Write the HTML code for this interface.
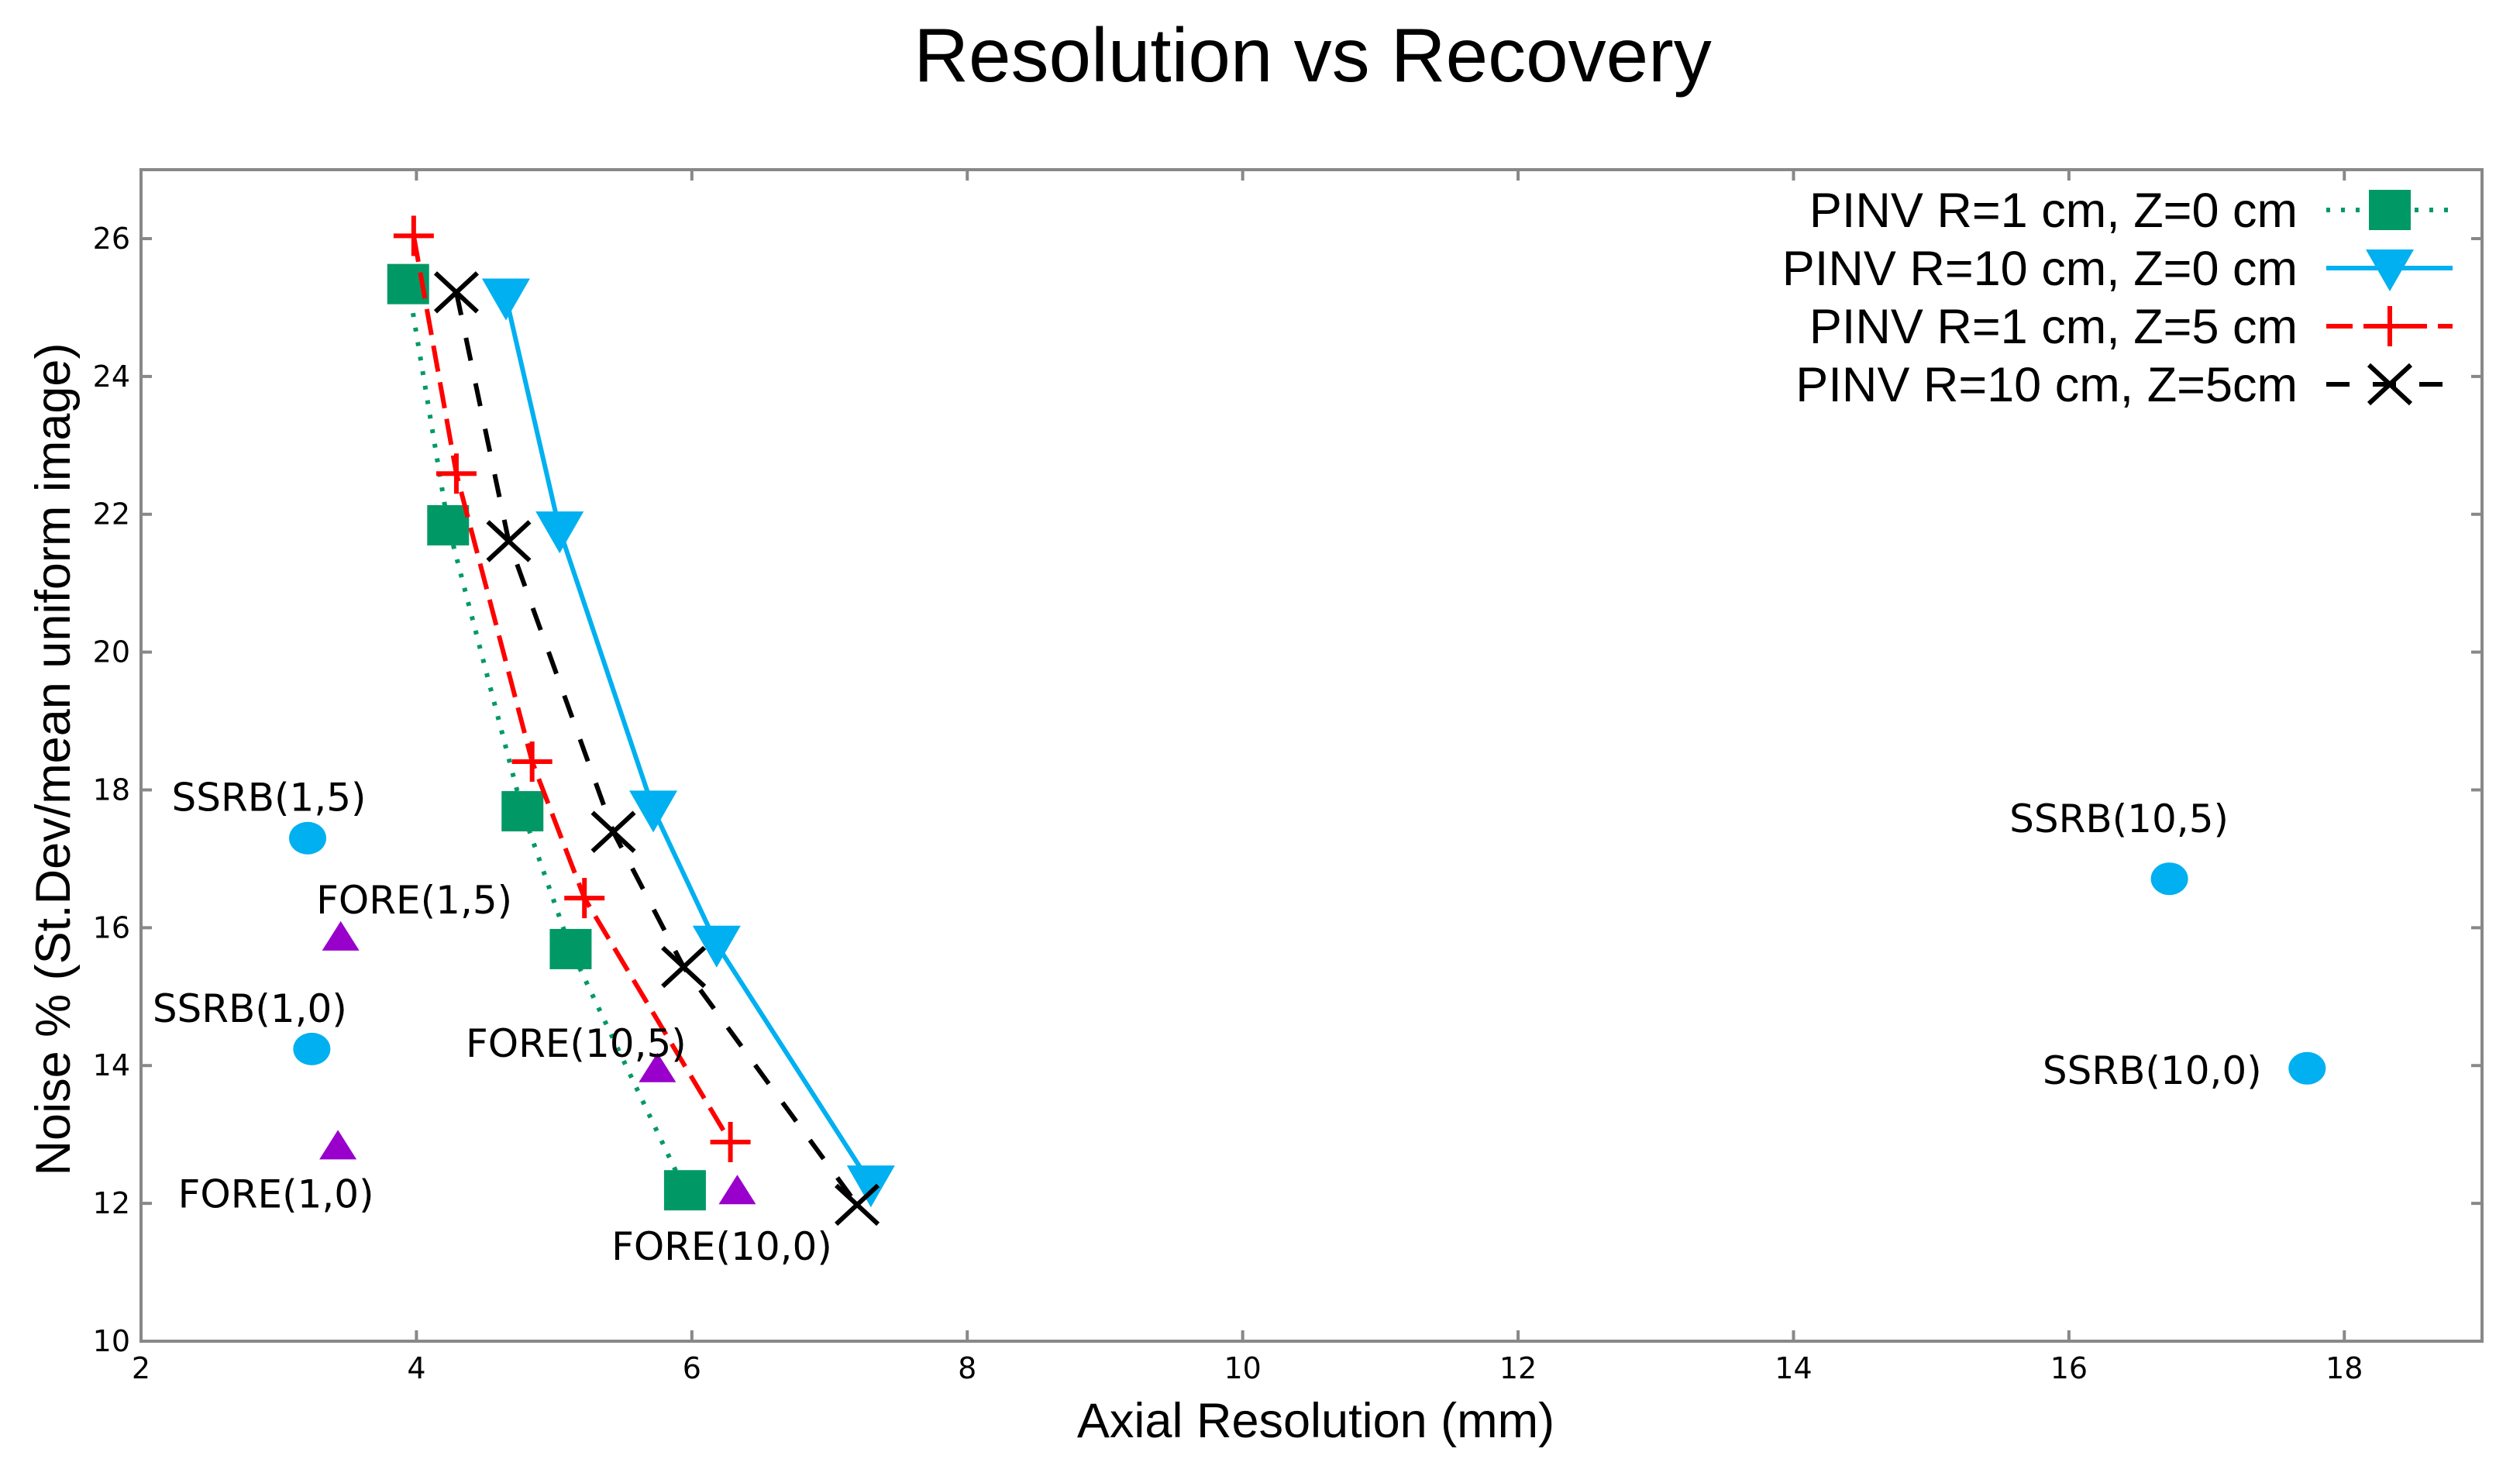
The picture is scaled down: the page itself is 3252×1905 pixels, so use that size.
<!DOCTYPE html>
<html><head><meta charset="utf-8"><style>
html,body{margin:0;padding:0;background:#fff;}
svg{display:block;}
</style></head><body>
<svg id="chart" width="3252" height="1905" viewBox="0 0 3252 1905" xmlns="http://www.w3.org/2000/svg">
<text x="1694" y="105" font-family="Liberation Sans, sans-serif" font-size="98" text-anchor="middle" fill="#000">Resolution vs Recovery</text>
<rect x="182" y="219" width="3021" height="1512" fill="none" stroke="#888" stroke-width="4"/>
<g id="axes"></g>
<g id="series"></g>
<g id="points"></g>
<g id="legend"></g>
<text x="1698" y="1855" font-family="Liberation Sans, sans-serif" font-size="63" text-anchor="middle">Axial Resolution (mm)</text>
<text transform="translate(90,980) rotate(-90)" font-family="Liberation Sans, sans-serif" font-size="63" text-anchor="middle">Noise % (St.Dev/mean uniform image)</text>
</svg>
<script>
const xTicks=[2,4,6,8,10,12,14,16,18];
const yTicks=[10,12,14,16,18,20,22,24,26];
const greenX=[3.94,4.23,4.77,5.12,5.95];
const greenY=[25.34,21.84,17.69,15.69,12.19];
const blueX=[4.65,5.04,5.72,6.18,7.30];
const blueY=[25.15,21.77,17.72,15.76,12.28];
const redX=[3.98,4.29,4.84,5.22,6.28];
const redY=[26.04,22.59,18.41,16.43,12.89];
const blackX=[4.29,4.67,5.43,5.94,7.2];
const blackY=[25.22,21.61,17.39,15.43,11.98];
const ssrbLabels=["SSRB(1,5)","SSRB(1,0)","SSRB(10,5)","SSRB(10,0)"];
const ssrbX=[3.21,3.24,16.73,17.73];
const ssrbY=[17.30,14.24,16.71,13.96];
const foreLabels=["FORE(1,5)","FORE(1,0)","FORE(10,5)","FORE(10,0)"];
const foreX=[3.45,3.43,5.75,6.33];
const foreY=[15.87,12.84,13.96,12.19];
const legendLabels=["PINV R=1 cm, Z=0 cm","PINV R=10 cm, Z=0 cm","PINV R=1 cm, Z=5 cm","PINV R=10 cm, Z=5cm"];

const L=182,R=3203,T=219,B=1731,X0=2,X1=19,Y0=10,Y1=27;
const sx=v=>L+(v-X0)/(X1-X0)*(R-L);
const sy=v=>B-(v-Y0)/(Y1-Y0)*(B-T);
const NS="http://www.w3.org/2000/svg";
function mk(tag,attrs,parent){const e=document.createElementNS(NS,tag);for(const k in attrs)e.setAttribute(k,attrs[k]);parent.appendChild(e);return e;}
const axes=document.getElementById('axes');
xTicks.forEach(t=>{
  const x=sx(t);
  const tk=mk('path',{d:`M${x},${B}v-14M${x},${T}v14`,stroke:'#888','stroke-width':4},axes);
  
  
  const lb=mk('text',{x:x,y:B+48,'font-family':'DejaVu Sans, sans-serif','font-size':38,'text-anchor':'middle'},axes);
  lb.textContent=t;
  
  
});
yTicks.forEach(t=>{
  const y=sy(t);
  const tk=mk('path',{d:`M${L},${y}h14M${R},${y}h-14`,stroke:'#888','stroke-width':4},axes);
  
  
  const lb=mk('text',{x:L-14,y:y+13,'font-family':'DejaVu Sans, sans-serif','font-size':38,'text-anchor':'end'},axes);
  lb.textContent=t;
  
  
});
function marker(type,cx,cy,g){
  let e;
  if(type==='sq') e=mk('rect',{x:cx-27,y:cy-26,width:54,height:52,fill:'#009966'},g);
  else if(type==='tri') e=mk('path',{d:`M${cx-31},${cy-24}h62l-31,54z`,fill:'#00b0f0'},g);
  else if(type==='plus') e=mk('path',{d:`M${cx-26},${cy}h52M${cx},${cy-26}v52`,stroke:'#ff0000','stroke-width':6},g);
  else e=mk('path',{d:`M${cx-27},${cy-25}L${cx+27},${cy+25}M${cx-27},${cy+25}L${cx+27},${cy-25}`,stroke:'#000','stroke-width':6},g);
  return e;
}
const seriesDefs=[
 {xs:greenX,ys:greenY,color:'#009966',dash:'5 14',type:'sq',name:'pinv-r1-z0'},
 {xs:blueX,ys:blueY,color:'#00b0f0',dash:'',type:'tri',name:'pinv-r10-z0'},
 {xs:redX,ys:redY,color:'#ff0000',dash:'34 14',type:'plus',name:'pinv-r1-z5'},
 {xs:blackX,ys:blackY,color:'#000',dash:'30 30',type:'x',name:'pinv-r10-z5'}];
const sg=document.getElementById('series');
seriesDefs.forEach(s=>{
  const pts=s.xs.map((v,i)=>sx(v)+','+sy(s.ys[i])).join(' ');
  const line=mk('polyline',{points:pts,fill:'none',stroke:s.color,'stroke-width':6,'stroke-dasharray':s.dash},sg);
  
  
  s.xs.forEach((v,i)=>{
    const m=marker(s.type,sx(v),sy(s.ys[i]),sg);
    
    
  });
});
const pg=document.getElementById('points');
const ssrbOff=[[-50,-35],[-80,-35],[-65,-60],[-200,20]];
ssrbX.forEach((v,i)=>{
  const c=mk('ellipse',{cx:sx(v),cy:sy(ssrbY[i]),rx:24,ry:21,fill:'#00b0f0'},pg);
  
  
  const t=mk('text',{x:sx(v)+ssrbOff[i][0],y:sy(ssrbY[i])+ssrbOff[i][1],'font-family':'DejaVu Sans, sans-serif','font-size':50,'text-anchor':'middle'},pg);
  t.textContent=ssrbLabels[i];
  
  
});
const foreOff=[[95,-30],[-80,80],[-105,-15],[-20,90]];
foreX.forEach((v,i)=>{
  const x=sx(v),y=sy(foreY[i]);
  const p=mk('path',{d:`M${x-24},${y+18}h48l-24,-38z`,fill:'#9900cc'},pg);
  
  
  const t=mk('text',{x:x+foreOff[i][0],y:y+foreOff[i][1],'font-family':'DejaVu Sans, sans-serif','font-size':50,'text-anchor':'middle'},pg);
  t.textContent=foreLabels[i];
  
  
});
const lg=document.getElementById('legend');
legendLabels.forEach((lab,i)=>{
  const y=271+i*75;
  const t=mk('text',{x:2965,y:y+22,'font-family':'Liberation Sans, sans-serif','font-size':63,'text-anchor':'end'},lg);
  t.textContent=lab;
  
  
  const s=seriesDefs[i];
  const ln=mk('line',{x1:3002,y1:y,x2:3165,y2:y,stroke:s.color,'stroke-width':6,'stroke-dasharray':s.dash},lg);
  
  
  const m=marker(s.type,3084,y,lg);
  
  
});
</script>
</body></html>
